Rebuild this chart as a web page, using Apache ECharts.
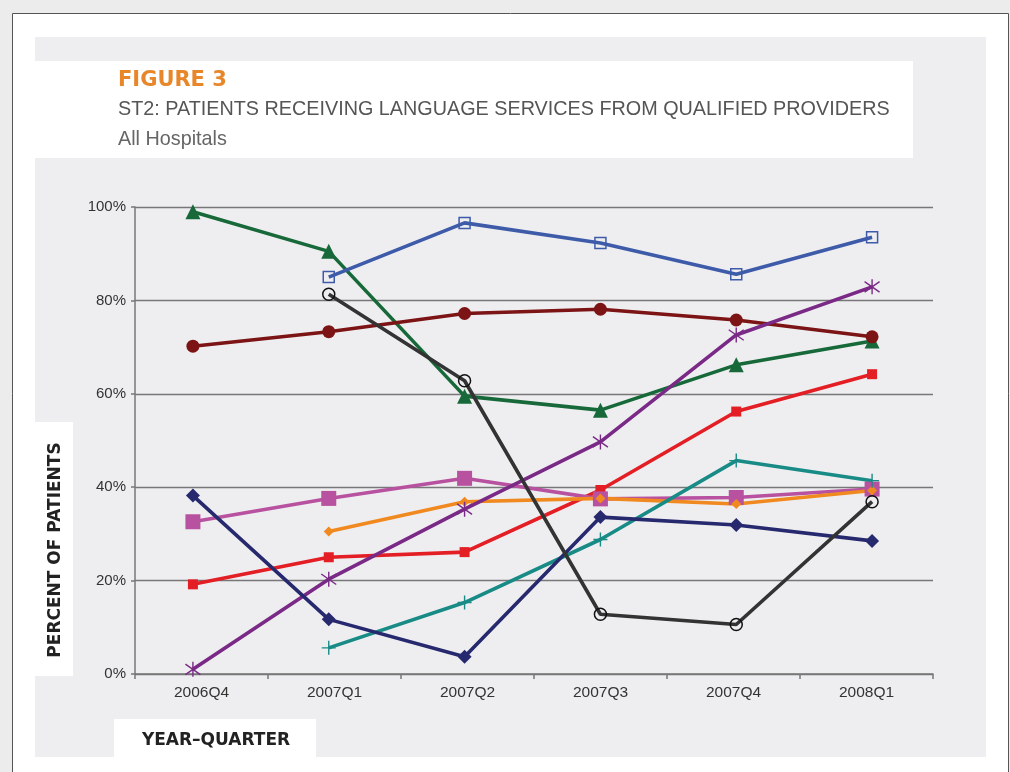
<!DOCTYPE html>
<html>
<head>
<meta charset="utf-8">
<script src="https://cdn.jsdelivr.net/npm/echarts@6/dist/echarts.min.js"></script>
<style>
  html, body { margin: 0; padding: 0; background: #ececec; }
  #chart { width: 1010px; height: 772px; }
</style>
</head>
<body>
<div id="chart"></div>
<script>
const quarters = ["2006Q4", "2007Q1", "2007Q2", "2007Q3", "2007Q4", "2008Q1"];

// percent of patients, one array per hospital line (null = no report)
const greenTriangles = [99, 90.5, 59.5, 56.5, 66.2, 71.3];
const blueSquares = [null, 85, 96.6, 92.3, 85.6, 93.5];
const redCircles = [70.2, 73.3, 77.2, 78.1, 75.8, 72.2];
const blackCircles = [null, 81.3, 62.8, 12.8, 10.6, 36.9];
const purpleStars = [1.0, 20.3, 35.3, 49.7, 72.6, 82.9];
const redSquares = [19.2, 25, 26.1, 39.4, 56.2, 64.2];
const pinkSquares = [32.6, 37.6, 41.9, 37.5, 37.8, 39.6];
const orangeDiamonds = [null, 30.5, 36.9, 37.6, 36.4, 39.3];
const navyDiamonds = [38.2, 11.7, 3.7, 33.6, 31.9, 28.5];
const tealPluses = [null, 5.6, 15.3, 28.8, 45.7, 41.4];

const panelBg = "#eeeef0";
const starPath = "path://M0,-10L0,10M-9,-7L9,7M-9,7L9,-7";
const plusPath = "path://M0,-10L0,10M-10,0L10,0";

function line(data, color, symbol, size, opts) {
  opts = opts || {};
  return {
    type: "line",
    xAxisIndex: 1,
    yAxisIndex: 1,
    data: data,
    symbol: symbol,
    symbolSize: size,
    showAllSymbol: true,
    connectNulls: false,
    lineStyle: { color: color, width: 3.6 },
    itemStyle: Object.assign({ color: color, opacity: 1 }, opts.item || {}),
    emphasis: { disabled: true },
    animation: false,
    z: opts.z || 2
  };
}

const chart = echarts.init(document.getElementById("chart"), null, { renderer: "canvas" });

const option = {
  backgroundColor: "#ececec",
  animation: false,
  graphic: [
    { type: "rect", shape: { x: 12.5, y: 13.5, width: 996, height: 770 },
      style: { fill: "#fff", stroke: "#555", lineWidth: 1 }, z: -10 },
    { type: "rect", shape: { x: 35, y: 37, width: 951, height: 720 },
      style: { fill: panelBg }, z: -9 },
    { type: "rect", shape: { x: 35, y: 61, width: 878, height: 97 },
      style: { fill: "#fff" }, z: -8 },
    { type: "rect", shape: { x: 35, y: 422, width: 38, height: 254 },
      style: { fill: "#fff" }, z: -8 },
    { type: "rect", shape: { x: 114, y: 719, width: 202, height: 38 },
      style: { fill: "#fff" }, z: -8 },
    { type: "text", x: 56, y: 550, rotation: Math.PI / 2,
      style: { text: "PERCENT OF PATIENTS", fill: "#222",
        font: "bold 17px 'DejaVu Sans'", textAlign: "center", textVerticalAlign: "middle" }, z: 5 },
    { type: "text", x: 216, y: 741,
      style: { text: "YEAR–QUARTER", fill: "#222",
        font: "bold 17px 'DejaVu Sans'", textAlign: "center", textVerticalAlign: "middle" }, z: 5 }
  ],
  title: [
    { text: "FIGURE 3", left: 118, top: 70, padding: 0,
      textStyle: { color: "#e8862a", fontFamily: "DejaVu Sans", fontWeight: "bold", fontSize: 21 } },
    { text: "ST2: PATIENTS RECEIVING LANGUAGE SERVICES FROM QUALIFIED PROVIDERS", left: 118, top: 100, padding: 0,
      textStyle: { color: "#555", fontFamily: "Liberation Sans", fontWeight: "normal", fontSize: 19.8 } },
    { text: "All Hospitals", left: 118, top: 130, padding: 0,
      textStyle: { color: "#666", fontFamily: "Liberation Sans", fontWeight: "normal", fontSize: 19.8 } }
  ],
  grid: [
    { left: 135, right: 77, top: 207, bottom: 98 },
    { left: 125, right: 70, top: 207, bottom: 98 }
  ],
  xAxis: [
    {
      type: "category", gridIndex: 0, data: quarters, boundaryGap: true,
      axisLine: { lineStyle: { color: "#777", width: 1.5 } },
      axisTick: { show: true, length: 5, lineStyle: { color: "#777", width: 1.5 } },
      axisLabel: { color: "#333", fontFamily: "Liberation Sans", fontSize: 15.5, margin: 11 }
    },
    { type: "category", gridIndex: 1, data: quarters, boundaryGap: true, show: false }
  ],
  yAxis: [
    {
      type: "value", gridIndex: 0, min: 0, max: 100, interval: 20,
      axisLine: { show: true, lineStyle: { color: "#777", width: 1.5 } },
      axisTick: { show: true, length: 4, lineStyle: { color: "#777", width: 1.5 } },
      axisLabel: { formatter: "{value}%", color: "#333", fontFamily: "Liberation Sans", fontSize: 15, margin: 9 },
      splitLine: { lineStyle: { color: "#777", width: 1.4 } }
    },
    { type: "value", gridIndex: 1, min: 0, max: 100, show: false }
  ],
  series: [
    line(greenTriangles, "#17693a", "triangle", 15),
    line(blueSquares, "#3e5ba9", "rect", 11,
      { item: { color: "transparent", borderColor: "#3e5ba9", borderWidth: 1.5 } }),
    line(redCircles, "#7c1315", "circle", 13),
    line(redSquares, "#e31e25", "rect", 10),
    line(pinkSquares, "#b8519f", "rect", 15),
    line(orangeDiamonds, "#f0891f", "diamond", 10),
    line(purpleStars, "#7a2a86", starPath, 15,
      { item: { color: "#7a2a86", borderColor: "#7a2a86", borderWidth: 1.4 } }),
    line(tealPluses, "#198b86", plusPath, 14,
      { item: { color: "#198b86", borderColor: "#198b86", borderWidth: 1.4 } }),
    line(navyDiamonds, "#27296f", "diamond", 14),
    line(blackCircles, "#333333", "circle", 12,
      { item: { color: "transparent", borderColor: "#111", borderWidth: 1.5 } })
  ]
};

chart.setOption(option);
</script>
</body>
</html>
